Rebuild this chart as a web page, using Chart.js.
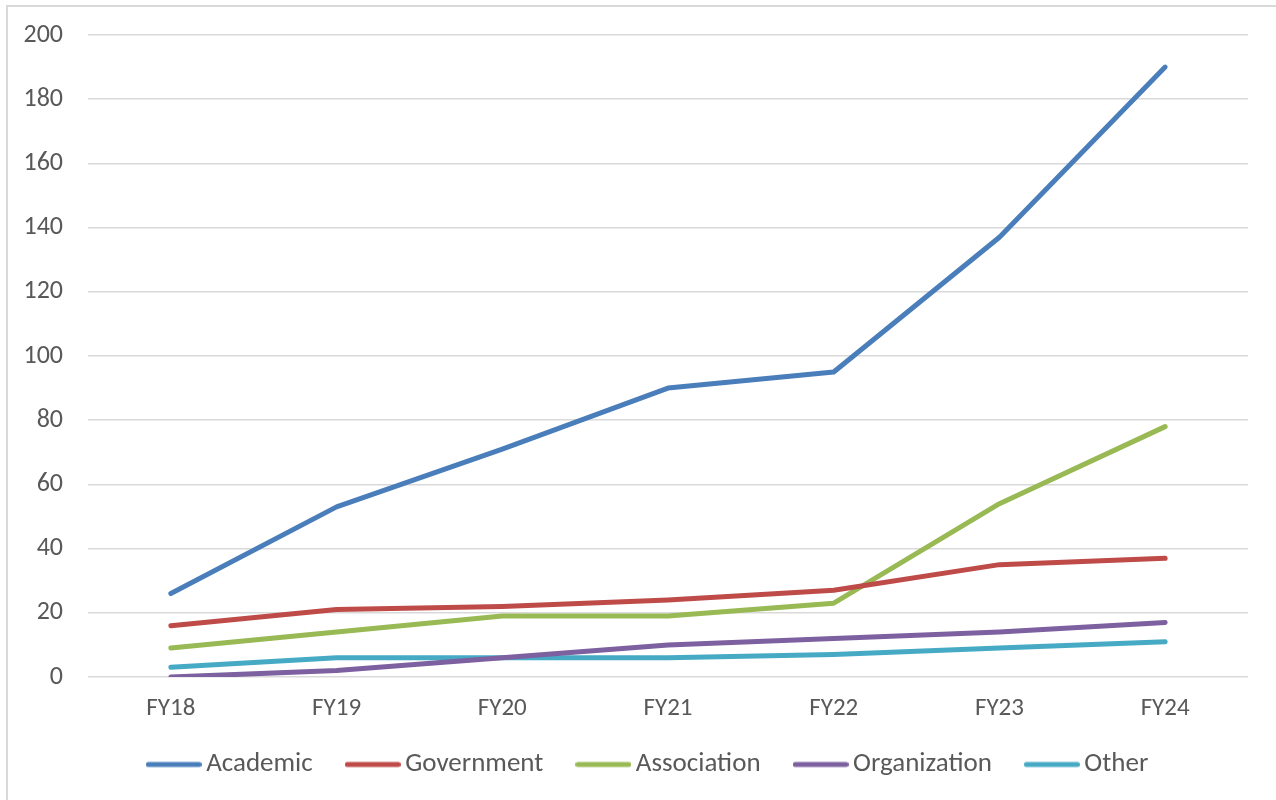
<!DOCTYPE html>
<html>
<head>
<meta charset="utf-8">
<title>Partners by type, FY18–FY24</title>
<script src="https://cdn.jsdelivr.net/npm/chart.js@4.4.1/dist/chart.umd.min.js"></script>
<style>
  html, body { margin: 0; padding: 0; background: #ffffff; }
  body { width: 1276px; height: 800px; overflow: hidden; position: relative; }
  .frame {
    position: absolute; left: 6px; top: 5px; width: 1290px; height: 820px;
    border: 2px solid #d9d9d9; box-sizing: border-box;
  }
  .wrap { position: absolute; left: 0; top: 0; width: 1276px; height: 800px; }
</style>
</head>
<body>
<div class="frame"></div>
<div class="wrap"><canvas id="chart" width="1276" height="800"></canvas></div>
<script>
// Fiscal years on the category axis
const years = ['FY18', 'FY19', 'FY20', 'FY21', 'FY22', 'FY23', 'FY24'];

// Counts per partner type
const academic     = [26, 53, 71, 90, 95, 137, 190];
const government   = [16, 21, 22, 24, 27, 35, 37];
const association  = [9, 14, 19, 19, 23, 54, 78];
const organization = [0, 2, 6, 10, 12, 14, 17];
const other        = [3, 6, 6, 6, 7, 9, 11];

const seriesNames  = ['Academic', 'Government', 'Association', 'Organization', 'Other'];
const seriesValues = [academic, government, association, organization, other];
const seriesColors = ['#4a7ebb', '#be4b48', '#98b954', '#7d60a0', '#46aac5'];

// Value axis ticks
const yMin = 0, yMax = 200, yStep = 20;

const FONT = "Carlito, Lato, 'Liberation Sans', sans-serif";
const TEXT = '#595959';
const LINE_W = 5;

// Short round-capped line used as the legend key for each series
function lineSwatch(color) {
  const w = 56;
  const c = document.createElement('canvas');
  c.width = w; c.height = 8;
  const g = c.getContext('2d');
  g.strokeStyle = color;
  g.lineWidth = LINE_W;
  g.lineCap = 'round';
  g.beginPath();
  g.moveTo(LINE_W / 2, 4);
  g.lineTo(w - LINE_W / 2, 4);
  g.stroke();
  return c;
}

// Nudge the legend box: inset its left edge and lift it closer to the axis labels
const legendInset = {
  id: 'legendInset',
  afterLayout(chart, args, opts) {
    const lg = chart.legend;
    if (!lg) return;
    lg.left += opts.left || 0;
    lg.top -= opts.up || 0;
    lg.bottom -= opts.up || 0;
  }
};

const datasets = seriesNames.map((name, i) => ({
  label: name,
  data: seriesValues[i],
  borderColor: seriesColors[i],
  backgroundColor: seriesColors[i],
  borderWidth: LINE_W,
  borderCapStyle: 'round',
  borderJoinStyle: 'round',
  pointRadius: 0,
  pointHoverRadius: 0,
  tension: 0,
  fill: false
}));

new Chart(document.getElementById('chart'), {
  type: 'line',
  data: { labels: years, datasets },
  plugins: [legendInset],
  options: {
    responsive: false,
    animation: false,
    devicePixelRatio: 1,
    layout: { padding: { top: 35, right: 28, left: 0, bottom: -5 } },
    plugins: {
      tooltip: { enabled: false },
      legendInset: { left: 55, up: 17 },
      legend: {
        position: 'bottom',
        labels: {
          usePointStyle: true,
          pointStyleWidth: 38,
          padding: 41,
          color: TEXT,
          font: { family: FONT, size: 27 },
          generateLabels(chart) {
            return chart.data.datasets.map((ds, i) => ({
              text: ds.label,
              strokeStyle: ds.borderColor,
              fillStyle: ds.borderColor,
              lineWidth: 0,
              pointStyle: lineSwatch(ds.borderColor),
              hidden: false,
              datasetIndex: i,
              fontColor: TEXT
            }));
          }
        }
      }
    },
    scales: {
      x: {
        offset: true,
        grid: { display: false, drawTicks: false },
        border: { display: false },
        ticks: { color: TEXT, font: { family: FONT, size: 25 }, padding: 17, maxRotation: 0 },
        afterFit(scale) { scale.height = 50; }
      },
      y: {
        min: yMin,
        max: yMax,
        grid: { color: '#d9d9d9', lineWidth: 1.5, drawTicks: false },
        border: { display: false },
        ticks: {
          stepSize: yStep,
          color: TEXT,
          font: { family: FONT, size: 26 },
          padding: 25
        },
        afterFit(scale) {
          scale.width = 88;
          scale.paddingTop = 0;
          scale.paddingBottom = 0;
        }
      }
    }
  }
});
</script>
</body>
</html>
